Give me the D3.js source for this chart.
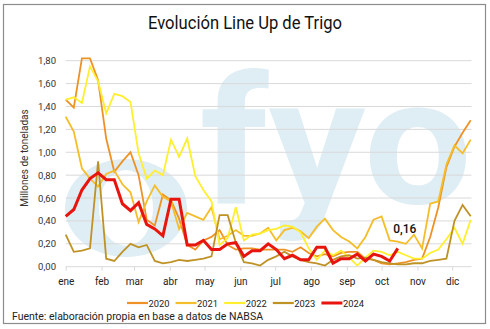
<!DOCTYPE html>
<html><head><meta charset="utf-8">
<script src="https://cdn.jsdelivr.net/npm/d3@7"></script>
<style>body{margin:0;background:#fff}svg{display:block}text{font-family:Roboto,"Open Sans",sans-serif}</style>
</head><body>
<script>
// ---- data (weekly, index 0 = first week of January) ----
const months = ["ene","feb","mar","abr","may","jun","jul","ago","sep","oct","nov","dic"];
const monthStartDay = [0,31,59,90,120,151,181,212,243,273,304,334];
const yTicks = [0,0.2,0.4,0.6,0.8,1.0,1.2,1.4,1.6,1.8];
const years = ["2020","2021","2022","2023","2024"];
const colors = ["#EE9226","#F5BD2A","#FFEF2E","#BF9226","#E8150F"];
const s2020 = [1.46,1.39,1.82,1.82,1.63,1.12,0.83,0.92,1.00,0.80,0.41,0.36,0.63,0.58,0.42,0.19,0.15,0.23,0.26,0.32,0.19,0.15,0.16,0.16,0.15,0.15,0.15,0.15,0.13,0.17,0.12,0.09,0.11,0.09,0.12,0.13,0.13,0.07,0.06,0.03,0.02,0.03,0.04,0.06,0.07,0.26,0.52,0.87,1.05,1.17,1.28];
const s2021 = [1.31,1.18,0.86,0.77,0.70,0.81,0.84,0.72,0.65,0.39,0.57,0.71,0.61,0.57,0.33,0.47,0.44,0.41,0.52,0.24,0.27,0.32,0.27,0.27,0.29,0.34,0.23,0.32,0.34,0.31,0.25,0.35,0.42,0.32,0.26,0.22,0.16,0.26,0.41,0.44,0.23,0.22,0.20,0.28,0.16,0.55,0.57,0.89,1.06,0.99,1.11];
const s2022 = [1.46,1.48,1.43,1.75,1.62,1.34,1.51,1.49,1.44,0.99,0.77,0.84,0.80,1.11,0.96,1.12,0.79,0.67,0.57,0.19,0.25,0.52,0.23,0.28,0.29,0.32,0.33,0.36,0.35,0.30,0.16,0.06,0.14,0.10,0.14,0.08,0.01,0.08,0.14,0.13,0.10,0.13,0.10,0.07,0.07,0.12,0.15,0.24,0.34,0.20,0.41];
const s2023 = [0.28,0.13,0.14,0.16,0.92,0.07,0.05,0.13,0.20,0.17,0.19,0.05,0.03,0.04,0.06,0.05,0.06,0.07,0.09,0.45,0.45,0.21,0.04,0.03,0.01,0.06,0.09,0.13,0.09,0.06,0.04,0.03,0.01,0.06,0.09,0.10,0.07,0.08,0.06,0.04,0.03,0.02,0.02,0.03,0.03,0.05,0.06,0.07,0.40,0.54,0.44];
const s2024 = [0.44,0.50,0.67,0.77,0.82,0.76,0.76,0.55,0.49,0.56,0.37,0.33,0.27,0.59,0.59,0.19,0.19,0.23,0.15,0.15,0.20,0.21,0.09,0.14,0.14,0.20,0.15,0.07,0.10,0.06,0.06,0.17,0.17,0.03,0.07,0.07,0.11,0.05,0.11,0.09,0.05,0.16];
const lastLabel = "0,16";

const series = [s2020,s2021,s2022,s2023,s2024];
const W = 490, H = 329;
const svg = d3.select("body").append("svg").attr("width",W).attr("height",H);

svg.append("rect").attr("x",3.5).attr("y",4.5).attr("width",482).attr("height",319)
  .attr("fill","#fff").attr("stroke","#8c8c8c").attr("stroke-width",1.2);

const x = d3.scaleLinear().domain([0,50]).range([65.7,470.7]);
const y = d3.scaleLinear().domain([0,1.8]).range([266.7,60.7]);

// watermark
const wm = svg.append("g").attr("fill","#dfedf4");
wm.append("path").attr("fill-rule","evenodd")
  .attr("d", (()=>{const cx=126,cy=208,ro=61,ryo=49,ri=27,ryi=38;
    return `M${cx-ro},${cy} a${ro},${ryo} 0 1,0 ${2*ro},0 a${ro},${ryo} 0 1,0 ${-2*ro},0 Z M${cx-ri},${cy} a${ri},${ryi} 0 1,0 ${2*ri},0 a${ri},${ryi} 0 1,0 ${-2*ri},0 Z`;})());
wm.append("text").attr("x",200).attr("y",203).attr("font-size",178).attr("font-weight",700)
  .attr("font-family","'Liberation Sans',Arial,sans-serif").attr("textLength",272).attr("lengthAdjust","spacingAndGlyphs").text("fyo");

// title
svg.append("text").attr("x",245).attr("y",29).attr("text-anchor","middle").attr("font-size",18)
  .attr("fill","#111").attr("textLength",194).attr("lengthAdjust","spacingAndGlyphs").text("Evolución Line Up de Trigo");

// gridlines
svg.append("g").selectAll("line").data(yTicks.slice(1)).join("line")
  .attr("x1",65.7).attr("x2",471.5).attr("y1",d=>y(d)).attr("y2",d=>y(d))
  .attr("stroke","#d9d9d9").attr("stroke-width",1);

// y axis labels
const yAxis = d3.axisLeft(y).tickValues(yTicks).tickSize(0).tickPadding(0)
  .tickFormat(d=>d3.format(".2f")(d).replace(".",","));
const ga = svg.append("g").attr("transform","translate(56,0)").call(yAxis);
ga.select(".domain").remove();
ga.selectAll("text").attr("font-size",9.5).attr("fill","#333").attr("font-family","Roboto,sans-serif");

svg.append("text").attr("transform","translate(28,158) rotate(-90)").attr("text-anchor","middle")
  .attr("font-size",10).attr("fill","#333").text("Millones de toneladas");

// x axis
const xAxis = d3.axisBottom(x).tickValues(monthStartDay.map(d=>d/7)).tickSize(4).tickPadding(7)
  .tickFormat((d,i)=>months[i]);
const gx = svg.append("g").attr("transform","translate(0,266.7)").call(xAxis);
gx.select(".domain").attr("d","M65.7,0H471.5").attr("stroke","#d9d9d9");
gx.selectAll("line").attr("stroke","#d9d9d9");
gx.selectAll("text").attr("font-size",10).attr("fill","#222").attr("font-family","Roboto,sans-serif");

// lines
const line = d3.line().x((d,i)=>x(i)).y(d=>y(d));
series.forEach((s,k)=>{
  svg.append("path").datum(s).attr("d",line).attr("fill","none")
    .attr("stroke",colors[k]).attr("stroke-width",k===4?3:1.8).attr("stroke-linejoin","miter");
});

// last label
const li = s2024.length-1;
svg.append("text").attr("x",x(li)+7).attr("y",y(s2024[li])-15).attr("text-anchor","middle")
  .attr("font-size",12).attr("font-weight",500).attr("fill","#111").text(lastLabel);

// legend
const lg = svg.append("g");
years.forEach((yr,k)=>{
  const lx = 127 + k*48.6;
  lg.append("line").attr("x1",lx).attr("x2",lx+21).attr("y1",303).attr("y2",303)
    .attr("stroke",colors[k]).attr("stroke-width",k===4?3:2.2);
  lg.append("text").attr("x",lx+21.5).attr("y",306.5).attr("font-size",9.5).attr("fill","#222")
    .attr("textLength",21).attr("lengthAdjust","spacingAndGlyphs").text(yr);
});

// source
svg.append("text").attr("x",12).attr("y",319.5).attr("font-size",10.5).attr("fill","#222")
  .attr("textLength",251).attr("lengthAdjust","spacingAndGlyphs")
  .text("Fuente: elaboración propia en base a datos de NABSA");
</script>
</body></html>
